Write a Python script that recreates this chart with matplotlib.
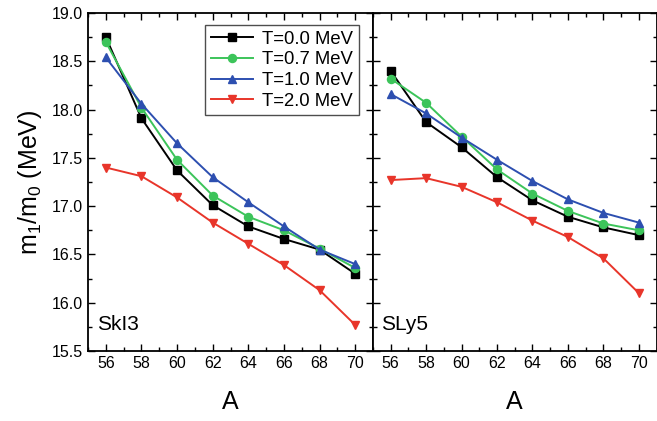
import matplotlib
matplotlib.use("Agg")
import matplotlib.pyplot as plt
from matplotlib.ticker import MultipleLocator, FormatStrFormatter

plt.rcParams['font.family'] = ['Liberation Sans', 'DejaVu Sans']
plt.rcParams['mathtext.fontset'] = 'custom'
plt.rcParams['mathtext.rm'] = 'Liberation Sans'
plt.rcParams['mathtext.it'] = 'Liberation Sans'
plt.rcParams['mathtext.default'] = 'rm'

A = [56, 58, 60, 62, 64, 66, 68, 70]
labels = ["T=0.0 MeV", "T=0.7 MeV", "T=1.0 MeV", "T=2.0 MeV"]
colors = ["#000000", "#3cc45a", "#2d4fb0", "#e8352a"]
markers = ["s", "o", "^", "v"]

ski3 = [
    [18.75, 17.91, 17.37, 17.01, 16.79, 16.66, 16.55, 16.30],
    [18.70, 18.02, 17.48, 17.11, 16.89, 16.75, 16.56, 16.36],
    [18.54, 18.06, 17.65, 17.30, 17.04, 16.79, 16.55, 16.40],
    [17.40, 17.31, 17.09, 16.83, 16.61, 16.39, 16.13, 15.77],
]
sly5 = [
    [18.40, 17.87, 17.61, 17.30, 17.06, 16.89, 16.78, 16.70],
    [18.32, 18.07, 17.72, 17.38, 17.13, 16.95, 16.82, 16.75],
    [18.16, 17.96, 17.71, 17.48, 17.26, 17.07, 16.93, 16.83],
    [17.27, 17.29, 17.20, 17.04, 16.85, 16.68, 16.46, 16.10],
]
panel_names = ["SkI3", "SLy5"]

fig = plt.figure(figsize=(6.57, 4.21), dpi=100)
ax1 = fig.add_axes([88/657, 1-351/421, 285/657, 338/421])
ax2 = fig.add_axes([373/657, 1-351/421, 283.5/657, 338/421])

for ax, data, name in zip([ax1, ax2], [ski3, sly5], panel_names):
    for vals, lab, c, m in zip(data, labels, colors, markers):
        ax.plot(A, vals, color=c, marker=m, markersize=5.8, linewidth=1.4, label=lab)
    ax.set_xlim(55, 71)
    ax.set_ylim(15.5, 19.0)
    ax.xaxis.set_major_locator(MultipleLocator(2))
    ax.xaxis.set_minor_locator(MultipleLocator(1))
    ax.yaxis.set_major_locator(MultipleLocator(0.5))
    ax.yaxis.set_minor_locator(MultipleLocator(0.25))
    ax.tick_params(which='both', direction='in', top=True, right=True, width=1.0)
    ax.tick_params(which='major', length=5, labelsize=11.5)
    ax.tick_params(which='minor', length=3)
    for s in ax.spines.values():
        s.set_linewidth(1.3)
    ax.set_xlabel("A", fontsize=18, labelpad=14)
    ax.text(0.03, 0.05, name, transform=ax.transAxes, fontsize=15, ha='left', va='bottom')

ax1.yaxis.set_major_formatter(FormatStrFormatter('%.1f'))
ax2.tick_params(labelleft=False)
ax1.set_ylabel(r"m$_1$/m$_0$ (MeV)", fontsize=18, labelpad=6)

leg = ax1.legend(loc='upper right', fontsize=13.3, handlelength=2.3, frameon=True,
                 fancybox=False, edgecolor='#222222', borderpad=0.3, labelspacing=0.2,
                 handletextpad=0.5, borderaxespad=0.0, bbox_to_anchor=(0.951, 0.964))
leg.get_frame().set_linewidth(1.0)

fig.savefig("out.png", dpi=100)
